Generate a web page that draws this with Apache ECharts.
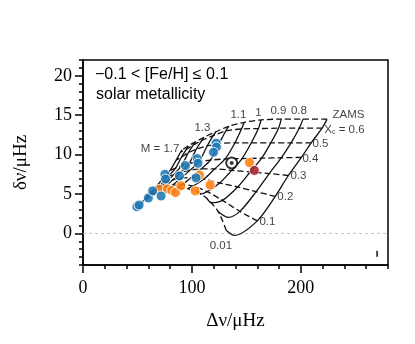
<!DOCTYPE html>
<html>
<head>
<meta charset="utf-8">
<title>C-D diagram</title>
<style>
  *{margin:0;padding:0;}
  html,body{width:415px;height:344px;background:#fff;}
  #main{width:415px;height:344px;}
</style>
</head>
<body>
<div id="main"></div>
<script src="https://cdn.jsdelivr.net/npm/echarts@6/dist/echarts.min.js"></script>
<script>
// model grid: each track holds [dnu, small sep] at ZAMS, Xc = 0.6 ... 0.01
var xcLevels = ['ZAMS', '0.6', '0.5', '0.4', '0.3', '0.2', '0.1', '0.01'];
var trackMasses = ['0.7', '0.8', '0.9', '1.0', '1.1', '1.2', '1.3', '1.4', '1.5', '1.6', '1.7'];

var track07 = [[224,14.5],[219.5,13.35],[209.5,11.5],[200.5,9.65],[188.5,7.35],[176.5,4.7],[160,1.6],[131.5,0.4]];
var track08 = [[202,14.5],[198.5,13.35],[191,11.5],[182,9.6],[171,7.6],[159,5.3],[144,2.8],[124,2.8]];
var track09 = [[182,14.5],[179.5,13.35],[172.5,11.5],[164,9.55],[153.5,7.8],[142,5.9],[128,4.2],[114,4.4]];
var track10 = [[163.5,14.4],[161,13.3],[154.5,11.5],[146,9.5],[136.5,8.0],[125.5,6.4],[114,5.3],[106,5.2]];
var track11 = [[148,14.1],[145.5,13.25],[139.5,11.5],[130.5,9.45],[121,8.2],[111,6.9],[101,6.0],[96,5.7]];
var track12 = [[134,13.6],[131,13.0],[125,11.4],[117,9.3],[108.5,8.2],[99.5,7.1],[91,6.2],[86,5.8]];
var track13 = [[122,12.9],[119.5,12.4],[114,11.1],[106.5,9.1],[98,8.0],[90,7.0],[82,6.1],[77,5.6]];
var track14 = [[111,12.2],[109,11.8],[104,10.7],[97.5,8.9],[90,7.8],[82.5,6.8],[75,5.9],[70,5.3]];
var track15 = [[103,11.6],[101,11.2],[96.5,10.2],[90.5,8.6],[83.5,7.5],[76.5,6.5],[69,5.6],[64,4.9]];
var track16 = [[96.5,11.1],[95,10.7],[90.5,9.7],[85,8.3],[78,7.2],[71.5,6.2],[64,5.2],[58,4.3]];
var track17 = [[91,10.6],[89.5,10.3],[85.5,9.3],[80,8.0],[73.5,7.0],[67,5.9],[59.5,4.8],[52,3.6]];
// lowest point of the hook between Xc = 0.1 and 0.01 (low masses only)
var trackHooks = [[139,-0.25],[133.5,2.05],[118,3.9],[108,5.0],null,null,null,null,null,null,null];

var tracks = [track07, track08, track09, track10, track11, track12, track13, track14, track15, track16, track17];

// stars
var blueStars = [[49.5,3.4],[51.5,3.6],[60,4.5],[64,5.4],[71.7,4.75],[75.2,7.5],[75.8,6.9],[88.5,7.3],[94,8.6],
                 [104.8,9.5],[105.5,8.9],[103.8,7.05],[122.2,11.45],[122.5,10.95],[119.8,10.3]];
var orangeStars = [[70.2,5.6],[77.5,5.65],[81.5,5.45],[84.9,5.2],[89.8,6.05],[103,5.4],[107,7.4],[116.7,6.15],[152.8,9.0]];
var redStars = [[157.3,8.0]];
var sunPoint = [[136.5,8.95]];
var errorBar = [[270,-2.95],[270,-2.2]];

var xMajor = [0, 100, 200];
var yMajor = [0, 5, 10, 15, 20];

var serif = '"Liberation Serif", "Times New Roman", serif';
var sans = '"Liberation Sans", Arial, sans-serif';

var series = [];

tracks.forEach(function (t, i) {
    var pts = t.slice(0, 7);
    if (trackHooks[i]) pts.push(trackHooks[i]);
    pts.push(t[7]);
    series.push({
        name: 'M = ' + trackMasses[i], type: 'line', data: pts, smooth: 0.3,
        symbol: 'none', silent: true, z: 2,
        lineStyle: {color: '#111', width: 1.3}
    });
});

xcLevels.forEach(function (lv, j) {
    series.push({
        name: 'Xc ' + lv, type: 'line', data: tracks.map(function (t) { return t[j]; }),
        smooth: 0.3, symbol: 'none', silent: true, z: 2,
        lineStyle: {color: '#111', width: 1.3, type: [6, 3]}
    });
});

series.push({
    type: 'line', data: [[0, 0], [280, 0]], symbol: 'none', z: 1,
    lineStyle: {color: '#c8c8c8', width: 1, type: [3, 3]}
});
series.push({
    type: 'line', data: errorBar, symbol: 'none', z: 3,
    lineStyle: {color: '#444', width: 2}
});

function starSeries(data, color, z) {
    return {
        type: 'scatter', data: data, symbolSize: 10, z: z,
        itemStyle: {color: color, borderColor: '#fff', borderWidth: 1, opacity: 0.88}
    };
}
series.push(starSeries(orangeStars, '#ff7f0e', 3));
series.push(starSeries(blueStars, '#1f77b4', 4));
series.push(starSeries(redStars, '#a2262a', 4));

series.push({
    type: 'scatter', data: sunPoint, symbolSize: 11, z: 6,
    itemStyle: {color: '#fff', borderColor: '#000', borderWidth: 2}
});
series.push({
    type: 'scatter', data: sunPoint, symbolSize: 4, z: 7,
    itemStyle: {color: '#000'}
});

// grid annotations, placed in data coordinates
var gridLabels = [
    ['1.1', 142.7, 15.05, 'center'],
    ['1', 161, 15.35, 'center'],
    ['0.9', 179.4, 15.55, 'center'],
    ['0.8', 198.2, 15.5, 'center'],
    ['ZAMS', 229, 15.1, 'left'],
    ['X{sub|c} = 0.6', 221.5, 13.2, 'left'],
    ['0.5', 210.6, 11.35, 'left'],
    ['0.4', 201.4, 9.5, 'left'],
    ['0.3', 190.4, 7.3, 'left'],
    ['0.2', 178.4, 4.7, 'left'],
    ['0.1', 162, 1.5, 'left'],
    ['0.01', 126.6, -1.6, 'center'],
    ['1.3', 109.6, 13.4, 'center'],
    ['M = 1.7', 88.5, 10.7, 'right']
];
series.push({
    type: 'scatter', symbolSize: 0, silent: true, z: 8,
    data: gridLabels.map(function (g) {
        return {
            value: [g[1], g[2]],
            label: {
                show: true, position: 'inside', formatter: g[0], align: g[3],
                verticalAlign: 'middle', fontFamily: sans, fontSize: 11.5, color: '#111',
                rich: {sub: {fontFamily: sans, fontSize: 7, color: '#111', padding: [6, 0, 0, 0]}}
            }
        };
    })
});

var axisCommon = {
    type: 'value', splitLine: {show: false}
};

var option = {
    animation: false,
    backgroundColor: '#fff',
    grid: {left: 83, right: 27, top: 60, bottom: 79, show: true, borderColor: '#000', borderWidth: 1.5},
    xAxis: [
        Object.assign({}, axisCommon, {
            min: 0, max: 280, interval: 20, position: 'bottom',
            axisLine: {onZero: false, lineStyle: {color: '#000', width: 1.5}},
            axisTick: {length: 4, lineStyle: {color: '#000', width: 1.5}},
            axisLabel: {show: false}
        }),
        Object.assign({}, axisCommon, {
            min: 0, max: 280, interval: 100, position: 'bottom',
            axisLine: {show: false, onZero: false},
            axisTick: {customValues: xMajor, length: 8, lineStyle: {color: '#000', width: 1.5}},
            axisLabel: {customValues: xMajor, margin: 14, fontFamily: serif, fontSize: 18, color: '#000'},
            name: 'Δν/μHz', nameLocation: 'middle', nameGap: 47,
            nameTextStyle: {fontFamily: serif, fontSize: 19, color: '#000'}
        })
    ],
    yAxis: [
        Object.assign({}, axisCommon, {
            min: -4, max: 22, interval: 1, position: 'left',
            axisLine: {onZero: false, lineStyle: {color: '#000', width: 1.5}},
            axisTick: {length: 4, lineStyle: {color: '#000', width: 1.5}},
            axisLabel: {show: false}
        }),
        Object.assign({}, axisCommon, {
            min: -4, max: 22, interval: 1, position: 'left',
            axisLine: {show: false, onZero: false},
            axisTick: {customValues: yMajor, length: 8, lineStyle: {color: '#000', width: 1.5}},
            axisLabel: {customValues: yMajor, margin: 11, fontFamily: serif, fontSize: 18, color: '#000'},
            name: 'δν/μHz', nameLocation: 'middle', nameGap: 52, nameRotate: 90,
            nameTextStyle: {fontFamily: serif, fontSize: 19, color: '#000'}
        })
    ],
    graphic: [
        {type: 'text', left: 95, top: 67, style: {text: '−0.1 < [Fe/H] ≤ 0.1', font: '16px ' + sans, fill: '#000'}},
        {type: 'text', left: 96, top: 87, style: {text: 'solar metallicity', font: '16px ' + sans, fill: '#000'}}
    ],
    series: series
};

var chart = echarts.init(document.getElementById('main'), null, {renderer: 'canvas'});
chart.setOption(option);
</script>
</body>
</html>
